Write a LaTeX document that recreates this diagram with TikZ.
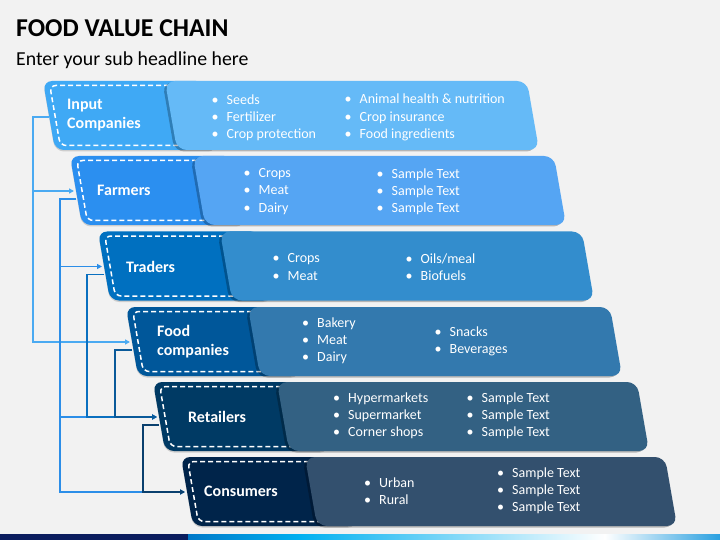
\documentclass[tikz,border=0pt]{standalone}
\usepackage{fontspec}
\setmainfont{Carlito}
\usetikzlibrary{arrows.meta,shadows,calc}
\definecolor{bg}{HTML}{F2F2F2}
\definecolor{tabA}{HTML}{3FA9F5}
\definecolor{tabB}{HTML}{2B8FF0}
\definecolor{tabC}{HTML}{0070C0}
\definecolor{tabD}{HTML}{00579A}
\definecolor{tabE}{HTML}{003A64}
\definecolor{tabF}{HTML}{00244A}
\definecolor{lcA}{HTML}{4AAAF2}
\definecolor{lcB}{HTML}{2C8EE8}
\definecolor{lcC}{HTML}{0A70C0}
\definecolor{lcD}{HTML}{0A5A9A}
\definecolor{lcE}{HTML}{0A406E}
\definecolor{navy}{HTML}{0B1D5E}
\definecolor{grA}{HTML}{0078C8}
\definecolor{grB}{HTML}{00B0F0}
\definecolor{grC}{HTML}{2AA0E0}
\newcommand\bul{\makebox[15pt][l]{\textbullet}}
\newcommand\foodrow[6]{%
  \fill[#6, rounded corners=9pt, tabshadow] (#3,#2) -- (#4+40,#2) -- (#4+52,#2+69) -- (#3+12,#2+69) -- cycle;
  \draw[dashline] (#4+20,#2+4.5) -- (#3+6.8,#2+4.5) -- (#3+17.2,#2+64.5) -- (#4+30,#2+64.5);
  \fill[#6!80!white, rounded corners=10pt, boxshadow] (#4,#2) -- (#5,#2) -- (#5+12,#2+69) -- (#4+12,#2+69) -- cycle;
  \coordinate (#1in) at (#3+4,#2+35);
  \coordinate (#1out) at (#3+6,#2+43);
}
\begin{document}
\begin{tikzpicture}[x=1pt,y=-1pt,
  tabshadow/.style={drop shadow={shadow xshift=0pt, shadow yshift=-1.5pt, opacity=0.15, fill=black}},
  boxshadow/.style={drop shadow={shadow xshift=-2.5pt, shadow yshift=-1.5pt, opacity=0.25, fill=black}},
  dashline/.style={draw=white, line width=1.5pt, dash pattern=on 5pt off 3pt, rounded corners=6pt},
  tablabel/.style={text=white, font=\fontsize{16}{19}\selectfont\bfseries, align=left, inner sep=0pt, anchor=west},
  body/.style={text=white, font=\fontsize{14}{17.2}\selectfont, align=left, inner sep=0pt, anchor=west},
  conn/.style={line width=1.4pt, -{Triangle[length=5pt,width=5pt]}}]
\useasboundingbox (0,0) rectangle (720,540);
\fill[bg] (0,0) rectangle (720,540);
% title
\node[anchor=base west, inner sep=0pt, font=\fontsize{25.7}{30}\selectfont\bfseries] (title) at (16,37) {FOOD VALUE CHAIN};
\node[anchor=base west, inner sep=0pt, font=\fontsize{19.8}{23}\selectfont] (sub) at (16,66) {Enter your sub headline here};
% rows
\foodrow{r1}{81}{43}{165}{527}{tabA}
\foodrow{r2}{156}{70}{193}{554}{tabB}
\foodrow{r3}{231.5}{98}{220}{582}{tabC}
\foodrow{r4}{307}{126}{248}{610}{tabD}
\foodrow{r5}{382}{153}{277}{637}{tabE}
\foodrow{r6}{457}{181}{305}{665}{tabF}
\coordinate (r1out) at (49,117);
% labels
\node[tablabel] (lab1) at (67,115.5) {Input\\Companies};
\node[tablabel] (lab2) at (97,190) {Farmers};
\node[tablabel] (lab3) at (126,266.5) {Traders};
\node[tablabel] (lab4) at (157,341.5) {Food\\companies};
\node[tablabel] (lab5) at (188,416.5) {Retailers};
\node[tablabel] (lab6) at (204,491.5) {Consumers};
% body text
\node[body] (b1a) at (211.5,117.5) {\bul Seeds\\\bul Fertilizer\\\bul Crop protection};
\node[body] (b1b) at (344.5,117.5) {\bul Animal health \& nutrition\\\bul Crop insurance\\\bul Food ingredients};
\node[body] (b2a) at (243.5,191.5) {\bul Crops\\\bul Meat\\\bul Dairy};
\node[body] (b2b) at (376.5,191.5) {\bul Sample Text\\\bul Sample Text\\\bul Sample Text};
\node[body] (b3a) at (272.5,267) {\bul Crops\\\bul Meat};
\node[body] (b3b) at (405.5,267) {\bul Oils/meal\\\bul Biofuels};
\node[body] (b4a) at (302,341) {\bul Bakery\\\bul Meat\\\bul Dairy};
\node[body] (b4b) at (434.5,341.5) {\bul Snacks\\\bul Beverages};
\node[body] (b5a) at (333,416) {\bul Hypermarkets\\\bul Supermarket\\\bul Corner shops};
\node[body] (b5b) at (466.5,416) {\bul Sample Text\\\bul Sample Text\\\bul Sample Text};
\node[body] (b6a) at (364,491.5) {\bul Urban\\\bul Rural};
\node[body] (b6b) at (497,491) {\bul Sample Text\\\bul Sample Text\\\bul Sample Text};
% bus lines
\coordinate (bus1) at (33,0);
\coordinate (bus2) at (60,0);
\coordinate (bus3) at (87,0);
\coordinate (bus4) at (115,0);
\coordinate (bus5) at (143,0);
\draw[conn, lcA] (r1out) -- (r1out -| bus1) |- (r4in);
\draw[conn, lcA] (r1out) -- (r1out -| bus1) |- (r2in);
\draw[conn, lcB] (r2out) -- (r2out -| bus2) |- (r6in);
\draw[conn, lcB] (r2out) -- (r2out -| bus2) |- (r5in);
\draw[conn, lcB] (r2out) -- (r2out -| bus2) |- (r3in);
\draw[conn, lcC] (r3out) -- (r3out -| bus3) |- (r5in);
\draw[conn, lcD] (r4out) -- (r4out -| bus4) |- (r5in);
\draw[conn, lcE] (r5out) -- (r5out -| bus5) |- (r6in);
% bottom bar
\fill[navy] (0,534) rectangle (188,540);
\shade[left color=grA, right color=grB] (188,534) rectangle (300,540);
\shade[left color=grB, right color=white] (299.5,534) rectangle (605,540);
\shade[left color=white, right color=grC] (604.5,534) rectangle (720,540);
\end{tikzpicture}
\end{document}
